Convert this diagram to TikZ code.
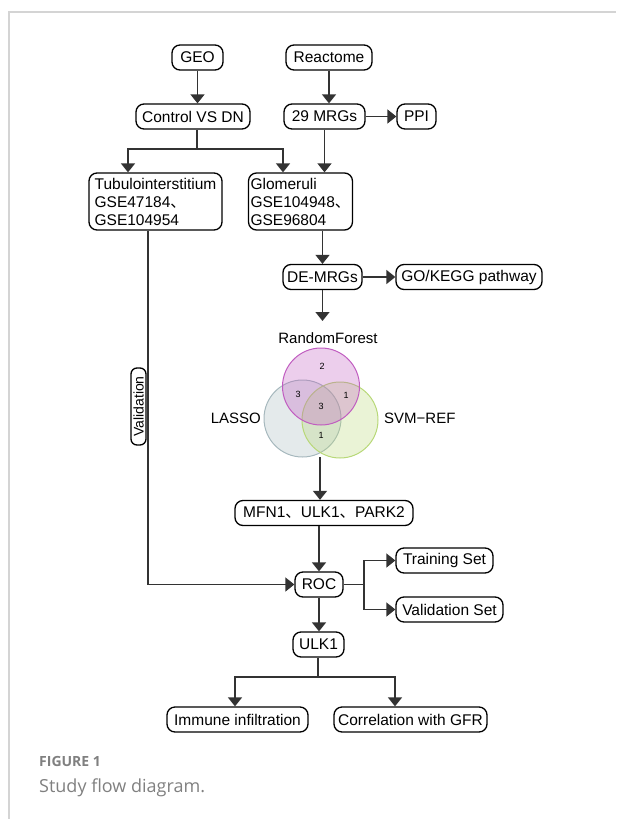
\documentclass[tikz,border=0pt]{standalone}
\usepackage{fontspec}
\setmainfont{Liberation Sans}
\newfontfamily\cjk{Noto Sans CJK SC}
\newfontfamily\capfont{Open Sans}
\usetikzlibrary{arrows.meta}

\definecolor{linegray}{HTML}{333333}
\definecolor{framegray}{HTML}{D4D4D4}
\definecolor{capgray}{HTML}{808080}
\definecolor{rfpurple}{HTML}{C05CC0}
\definecolor{lassogray}{HTML}{A6B8BD}
\definecolor{svmgreen}{HTML}{B8D878}

\tikzset{
  box/.style={draw=black, line width=1.3pt, rounded corners=8pt, minimum height=25pt,
    inner xsep=2pt, inner ysep=2pt, font=\fontsize{15.5}{18}\selectfont},
  arr/.style={draw=linegray, line width=1.4pt, -{Triangle[length=9pt,width=14pt]}},
  ln/.style={draw=linegray, line width=1.4pt},
  vennlbl/.style={font=\fontsize{15}{18}\selectfont, inner sep=0pt},
  vennnum/.style={font=\fontsize{9}{10}\selectfont, inner sep=0pt},
}

\begin{document}
\begin{tikzpicture}[x=1pt,y=-1pt]
\useasboundingbox (0,0) rectangle (616,819);
\draw[framegray, line width=2pt] (9,819) -- (9,12) -- (616,12);

\node[box, minimum width=51pt] (geo) at (197.5,57.5) {GEO};
\node[box, minimum width=86pt] (reactome) at (329,57.5) {Reactome};
\node[box, minimum width=114pt] (control) at (193,116.5) {Control VS DN};
\node[box, minimum width=81pt] (mrgs) at (324.5,116.5) {29 MRGs};
\node[box, minimum width=39pt] (ppi) at (416.5,116.5) {PPI};
\node[box, align=left, minimum width=133pt, minimum height=57pt] (tubulo) at (155.5,201.5)
  {Tubulointerstitium\\GSE47184{\cjk 、}\\GSE104954};
\node[box, align=left, minimum width=103pt, minimum height=57pt] (glom) at (300.5,201.5)
  {Glomeruli\\GSE104948{\cjk 、}\\GSE96804};
\node[box, minimum width=79pt] (demrgs) at (322.5,277) {DE-MRGs};
\node[box, minimum width=146pt] (gokegg) at (469,277) {GO/KEGG pathway};

\filldraw[draw=lassogray, fill=lassogray, fill opacity=0.3, line width=1pt] (302.5,418.5) circle (38.5);
\filldraw[draw=svmgreen, fill=svmgreen, fill opacity=0.3, line width=1pt] (340,420) circle (38);
\filldraw[draw=rfpurple, fill=rfpurple, fill opacity=0.3, line width=1pt] (321,386.5) circle (38.5);
\node[vennlbl] (rflbl) at (328,338) {RandomForest};
\node[vennlbl, anchor=east] (lassolbl) at (261,418) {LASSO};
\node[vennlbl, anchor=west] (svmlbl) at (384,418) {SVM\textminus REF};
\node[vennnum] (nrf) at (322,366) {2};
\node[vennnum] (nrflasso) at (298,394) {3};
\node[vennnum] (nrfsvm) at (346,395) {1};
\node[vennnum] (nall) at (321,406) {3};
\node[vennnum] (nlassosvm) at (321,435) {1};
\coordinate (venntop) at (322.5,321);
\coordinate (vennbot) at (320,457);

\node[box, minimum width=178pt] (mfn) at (324,513) {MFN1{\cjk 、}ULK1{\cjk 、}PARK2};
\node[box, minimum width=48pt] (roc) at (319,584.5) {ROC};
\node[box, minimum width=97pt] (training) at (444.5,560.5) {Training Set};
\node[box, minimum width=107pt] (validset) at (449.5,609.5) {Validation Set};
\node[box, minimum width=51pt] (ulk) at (318.5,644.5) {ULK1};
\node[box, minimum width=141pt] (immune) at (237.5,719.5) {Immune infiltration};
\node[box, minimum width=153pt] (gfr) at (410.5,719.5) {Correlation with GFR};
\node[box, rotate=90, minimum width=77pt, minimum height=15pt, inner ysep=0.5pt, rounded corners=6pt,
  font=\fontsize{14}{16}\selectfont] (validlbl) at (138.5,406.5) {Validation};

\coordinate (ctlsplit) at (197,149);
\coordinate (rocsplit) at (364,584.5);
\coordinate (ulksplit) at (318,677);

\draw[arr] (geo.south) -- (geo.south |- control.north);
\draw[arr] (reactome.south) -- (reactome.south |- mrgs.north);
\draw[arr] (mrgs.east) -- (ppi.west);
\draw[ln] (control.south -| ctlsplit) -- (ctlsplit);
\draw[arr] (ctlsplit) -| ([xshift=-27.5pt]tubulo.north);
\draw[arr] (ctlsplit) -| ([xshift=-17.5pt]glom.north);
\draw[arr] (mrgs.south) -- (mrgs.south |- glom.north);
\draw[arr] (demrgs.north |- glom.south) -- (demrgs.north);
\draw[arr] (demrgs.east) -- (gokegg.west);
\draw[arr] (demrgs.south) -- (venntop);
\draw[arr] (vennbot) -- (vennbot |- mfn.north);
\draw[arr] (roc.north |- mfn.south) -- (roc.north);
\draw[arr] ([xshift=-7.5pt]tubulo.south) |- (roc.west);
\draw[ln] (roc.east) -- (rocsplit);
\draw[arr] (rocsplit) |- (training.west);
\draw[arr] (rocsplit) |- (validset.west);
\draw[arr] (roc.south) -- (roc.south |- ulk.north);
\draw[ln] (ulk.south -| ulksplit) -- (ulksplit);
\draw[arr] (ulksplit) -| ([xshift=-2.5pt]immune.north);
\draw[arr] (ulksplit) -| ([xshift=-15.5pt]gfr.north);

\node[anchor=base west, inner sep=0pt, text=capgray, font=\capfont\bfseries\fontsize{14}{16}\selectfont] (figlbl) at (39,766) {FIGURE 1};
\node[anchor=base west, inner sep=0pt, text=capgray, font=\capfont\fontsize{18}{20}\selectfont] (figcap) at (39,792) {Study flow diagram.};
\end{tikzpicture}
\end{document}
